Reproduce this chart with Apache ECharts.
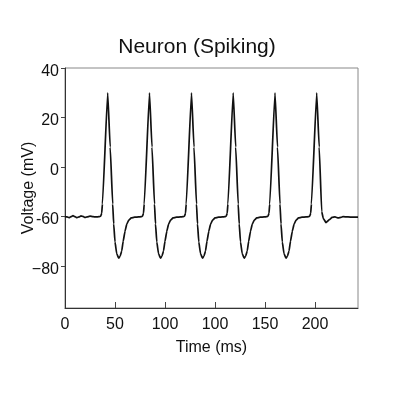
<!DOCTYPE html>
<html>
<head>
<meta charset="utf-8">
<script src="https://cdn.jsdelivr.net/npm/echarts@6/dist/echarts.min.js"></script>
<style>html,body{margin:0;padding:0;background:#fff}#c{width:394px;height:394px}</style>
</head>
<body>
<div id="c"></div>
<script>
// Tick positions (axis units) and the labels printed at them
var xTickValues = [0, 50, 100, 150, 200, 250];
var xTickLabels = ['0', '50', '100', '100', '150', '200', ''];
var yTickValues = [40, 20, 0, -20, -40];
var yTickLabels = ['40', '20', '0', '-60', '\u221280'];

// Trace samples (axis units)
var timeMs = [
  0,2,4,6,8,10,12,14,16,18,20,22,25,28,31,34,
  35.7,36.7,37.4,42.7,45.2,47.7,48.7,50,51.7,53.7,55.2,56.7,58.2,60,61.7,63.7,66.2,69.7,73.7,76.2,
  77.5,78.5,79.2,84.5,87,89.5,90.5,91.8,93.5,95.5,97,98.5,100,101.8,103.5,105.5,108,111.5,115.5,118,
  119.5,120.5,121.2,126.5,129,131.5,132.5,133.8,135.5,137.5,139,140.5,142,143.8,145.5,147.5,150,153.5,157.5,160,
  161.2,162.2,162.9,168.2,170.7,173.2,174.2,175.5,177.2,179.2,180.7,182.2,183.7,185.5,187.2,189.2,191.7,195.2,199.2,201.7,
  203,204,204.7,210,212.5,215,216,217.3,219,221,222.5,224,225.5,227.3,229,231,233.5,237,241,243.5,
  244.7,245.7,246.4,251.7,254.2,256.7,258.3,261,264.3,267,270,273.3,276,278,283,288,293
];
var voltage = [
  -20,-20.2,-20.5,-20.1,-19.7,-20.1,-20.5,-20.2,-19.8,-20,-20.4,-20.2,-19.9,-20.1,-20.2,-20.1,
  -19.9,-18.7,-15,30,8,-15,-23,-30.3,-35,-36.9,-36,-34,-30,-26,-23.2,-21.5,-20.6,-20.3,-20.2,-20.1,
  -19.9,-18.7,-15,30,8,-15,-23,-30.3,-35,-36.9,-36,-34,-30,-26,-23.2,-21.5,-20.6,-20.3,-20.2,-20.1,
  -19.9,-18.7,-15,30,8,-15,-23,-30.3,-35,-36.9,-36,-34,-30,-26,-23.2,-21.5,-20.6,-20.3,-20.2,-20.1,
  -19.9,-18.7,-15,30,8,-15,-23,-30.3,-35,-36.9,-36,-34,-30,-26,-23.2,-21.5,-20.6,-20.3,-20.2,-20.1,
  -19.9,-18.7,-15,30,8,-15,-23,-30.3,-35,-36.9,-36,-34,-30,-26,-23.2,-21.5,-20.6,-20.3,-20.2,-20.1,
  -19.9,-18.7,-15,30,8,-18,-20.8,-22.5,-21.3,-20.4,-20.2,-20.6,-20.4,-20.1,-20.2,-20.3,-20.3
];

var pts = timeMs.map(function (t, i) { return [t, voltage[i]]; });
var FONT = 'Liberation Sans, Arial, sans-serif';
var chart = echarts.init(document.getElementById('c'), null, {renderer: 'canvas'});
chart.setOption({
  animation: false,
  backgroundColor: '#fff',
  title: {
    text: 'Neuron (Spiking)', left: 'center', top: 32,
    textStyle: {fontFamily: FONT, fontSize: 21, fontWeight: 'normal', color: '#111'}
  },
  grid: {left: 65, right: 36, top: 68, bottom: 86, show: true, borderColor: '#888', borderWidth: 1},
  xAxis: {
    type: 'value', min: 0, max: 293,
    name: 'Time (ms)', nameLocation: 'middle', nameGap: 32, nameMoveOverlap: false,
    nameTextStyle: {fontFamily: FONT, fontSize: 16, color: '#111'},
    axisLine: {show: true, onZero: false, lineStyle: {color: '#333', width: 1}},
    axisTick: {show: true, inside: true, length: 6, lineStyle: {color: '#444'}, customValues: xTickValues.slice(1)},
    axisLabel: {
      customValues: xTickValues, margin: 9,
      fontFamily: FONT, fontSize: 16, color: '#111',
      formatter: function (v) { var i = xTickValues.indexOf(v); return i >= 0 ? xTickLabels[i] : ''; }
    },
    splitLine: {show: false}
  },
  yAxis: {
    type: 'value', min: -57, max: 40,
    name: 'Voltage (mV)', nameLocation: 'middle', nameGap: 28, nameMoveOverlap: false,
    nameTextStyle: {fontFamily: FONT, fontSize: 16, color: '#111'},
    axisLine: {show: true, onZero: false, lineStyle: {color: '#333', width: 1}},
    axisTick: {show: true, inside: false, length: 4, lineStyle: {color: '#444'}, customValues: yTickValues},
    axisLabel: {
      customValues: yTickValues, margin: 6, verticalAlign: 'top', lineHeight: 7,
      fontFamily: FONT, fontSize: 16, color: '#111',
      formatter: function (v) { var i = yTickValues.indexOf(v); return i >= 0 ? yTickLabels[i] : ''; }
    },
    splitLine: {show: false}
  },
  series: [{
    type: 'line', data: pts, showSymbol: false, smooth: 0.12, smoothMonotone: 'x',
    lineStyle: {color: '#111', width: 1.7}
  }]
});
</script>
</body>
</html>
